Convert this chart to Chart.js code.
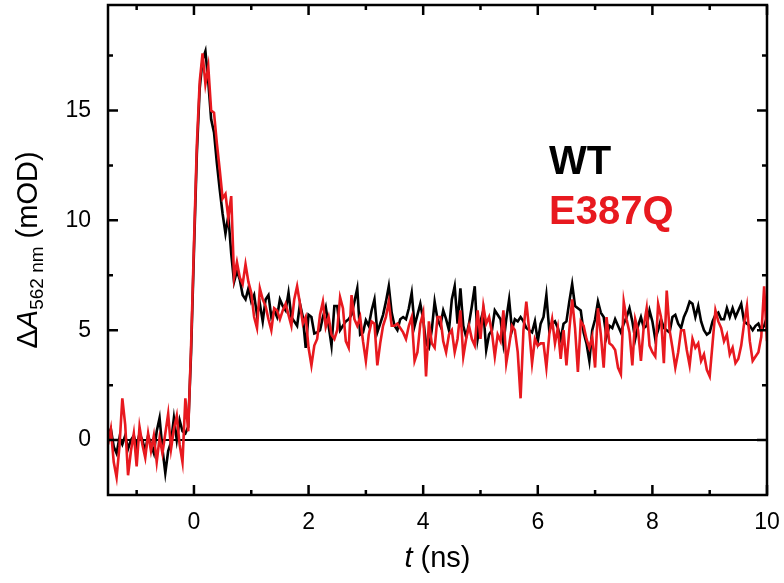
<!DOCTYPE html>
<html>
<head>
<meta charset="utf-8">
<script src="https://cdn.jsdelivr.net/npm/chart.js@4"></script>
<style>
  html, body { margin: 0; padding: 0; background: #fff; }
  canvas { display: block; }
</style>
</head>
<body>
<canvas id="chart" width="784" height="583"></canvas>
<script>
// transient absorption at 562 nm, WT vs E387Q

const seriesNames = ["WT", "E387Q"];
const seriesColors = ["#000000", "#e8191f"];

// time base (ns), 50 ps sampling from -1.5 to 10
const times = [];
for (let i = 0; i <= 230; i++) times.push(Math.round((-1.5 + i * 0.05) * 100) / 100);

// mOD, one line per 0.5 ns
const wt = [
  0.2, 0.5, -0.3, -0.6, 0.1, -0.2, 0.2, -0.4, 0.0, 0.2,
  -0.3, 0.3, 0.0, -0.5, 0.2, -0.2, -0.6, 0.4, 1.0, -0.4,
  -1.5, -0.5, -0.1, 1.0, 0.0, 0.9, 0.4, 0.3, 0.6, 4.0,
  8.6, 13.0, 16.0, 17.3, 17.7, 16.3, 14.6, 14.0, 12.6, 11.4,
  10.3, 9.4, 10.2, 8.5, 7.2, 7.7, 7.3, 6.6, 6.4, 6.9,
  6.3, 6.6, 5.7, 6.2, 5.4, 6.4, 6.6, 5.6, 5.9, 5.6,
  6.4, 6.1, 5.9, 6.7, 5.6, 5.4, 5.2, 6.2, 5.6, 4.2,
  5.7, 5.6, 4.85, 4.9, 5.0, 5.6, 6.05, 5.2, 4.3, 6.1,
  6.1, 5.0, 5.2, 5.4, 5.5, 5.7, 6.3, 6.9, 4.8, 4.9,
  5.45, 5.2, 5.9, 6.4, 4.9, 5.3, 5.7, 6.3, 7.0, 5.8,
  5.2, 5.0, 5.5, 5.6, 5.5, 6.0, 6.7, 5.2, 5.7, 6.2,
  5.5, 4.4, 4.2, 5.0, 6.3, 5.5, 5.2, 5.9, 5.5, 5.0,
  6.4, 7.0, 5.3, 6.9, 5.2, 4.7, 5.3, 6.1, 7.0, 4.6,
  5.4, 5.9, 4.1, 4.8, 5.0, 5.9, 5.7, 5.5, 4.4, 5.5,
  6.4, 5.0, 5.5, 5.4, 5.6, 5.4, 5.1, 5.0, 4.9, 5.4,
  4.5, 5.3, 5.6, 6.6, 5.0, 5.3, 5.4, 5.1, 4.6, 5.3,
  5.4, 6.3, 7.1, 6.1, 6.0, 5.9, 4.9, 4.4, 3.6, 5.0,
  5.5, 6.3, 5.8, 5.6, 4.7, 5.2, 5.1, 5.5, 5.2, 4.9,
  5.3, 5.6, 6.0, 5.4, 4.6, 5.2, 5.6, 5.1, 5.2, 5.9,
  5.4, 4.6, 5.0, 5.5, 5.1, 5.0, 4.9, 5.6, 5.7, 5.3,
  5.1, 5.6, 5.9, 6.3, 6.2, 5.6, 6.1, 5.4, 5.0, 4.8,
  4.9, 5.4, 5.7, 5.8, 5.5, 5.5, 6.0, 5.6, 6.0, 5.6,
  5.9, 6.2, 5.4, 5.3, 5.2, 5.0, 5.2, 5.3, 5.0, 5.2,
  5.6
];

const e387q = [
  -0.2, 0.5, -1.0, -1.7, -0.3, 1.9, 0.7, -1.6, -0.5, 0.3,
  -1.2, 0.6, -0.2, -0.8, 0.3, -0.5, 0.2, -1.0, 0.1, -0.6,
  0.3, 1.2, -0.4, 0.5, 1.1, -0.2, -1.0, 1.9, 0.4, 4.3,
  8.9, 13.4, 16.3, 17.6, 16.2, 17.0, 15.0, 14.9, 13.5, 12.3,
  11.0, 11.2, 10.1, 11.1, 7.4, 8.1, 7.4, 7.1, 8.0, 7.2,
  6.7, 5.6, 5.1, 6.9, 6.4, 6.1, 5.5, 5.0, 6.0, 5.9,
  5.5, 5.9, 6.2, 5.7, 5.2, 6.4, 7.0, 6.2, 5.3, 5.6,
  4.2, 3.4, 4.3, 4.6, 5.7, 6.3, 5.15, 5.6, 4.8, 4.6,
  5.0, 6.5, 6.0, 4.5, 4.2, 6.6, 5.5, 5.2, 5.6, 4.5,
  3.6, 4.8, 5.4, 5.3, 3.4, 4.4, 5.2, 5.6, 6.3, 5.2,
  5.2, 5.3, 5.1, 4.9, 4.6, 5.2, 5.6, 3.6, 4.0, 5.3,
  5.8, 2.9, 5.4, 4.4, 4.2, 5.6, 5.6, 4.5, 4.0, 4.8,
  5.0, 4.0, 4.6, 5.9, 3.8, 4.6, 5.2, 4.6, 4.3, 5.9,
  4.6, 6.1, 5.3, 5.6, 4.9, 3.8, 4.8, 4.5, 5.9, 3.5,
  4.3, 5.2, 5.0, 4.0, 1.9, 5.0, 6.3, 5.0, 3.5, 4.6,
  4.3, 4.4, 4.4, 3.3, 4.8, 5.5, 4.4, 5.1, 3.7, 5.0,
  3.4, 5.0, 6.4, 5.1, 3.1, 5.4, 5.2, 4.6, 4.2, 4.7,
  3.3, 6.0, 4.8, 3.3, 5.6, 4.4, 4.3, 4.1, 3.3, 3.0,
  6.3, 5.5, 4.9, 3.4, 5.5, 5.0, 3.6, 5.2, 6.0, 4.3,
  4.0, 3.8, 6.2, 5.6, 3.5, 6.8, 5.0, 4.2, 3.3, 4.0,
  5.0, 5.0, 4.1, 3.4, 4.6, 4.2, 4.4, 3.6, 3.9, 3.2,
  2.9, 4.4, 5.9, 5.4, 5.1, 4.5, 4.8, 3.9, 4.2, 3.5,
  3.7, 4.3, 5.3, 6.1, 4.5, 3.6, 3.8, 4.0, 4.7, 7.0,
  4.5
];

const xMajor = [0, 2, 4, 6, 8, 10];
const xMinor = [-1, 1, 3, 5, 7, 9];
const yMajor = [0, 5, 10, 15];
const yMinor = [2.5, 7.5, 12.5, 17.5];

const FONT = "'Liberation Sans', Arial, sans-serif";

function toPoints(vals) {
  return times.map((t, i) => ({ x: t, y: vals[i] }));
}

// frame, inward ticks, zero line, axis titles, text legend
const framePlugin = {
  id: "frame",
  beforeDatasetsDraw(chart) {
    const { ctx, chartArea: a, scales } = chart;
    const y0 = scales.y.getPixelForValue(0);
    ctx.save();
    ctx.strokeStyle = "#000";
    ctx.lineWidth = 2;
    ctx.beginPath();
    ctx.moveTo(a.left, y0);
    ctx.lineTo(a.right, y0);
    ctx.stroke();
    ctx.restore();
  },
  afterDraw(chart) {
    const { ctx, chartArea: a, scales } = chart;
    const xs = scales.x, ys = scales.y;
    ctx.save();
    ctx.strokeStyle = "#000";
    ctx.lineWidth = 2.5;
    ctx.strokeRect(a.left, a.top, a.right - a.left, a.bottom - a.top);

    const tick = (vals, len) => {
      ctx.beginPath();
      vals.forEach(v => {
        const px = xs.getPixelForValue(v);
        ctx.moveTo(px, a.bottom); ctx.lineTo(px, a.bottom - len);
        ctx.moveTo(px, a.top); ctx.lineTo(px, a.top + len);
      });
      ctx.stroke();
    };
    const ytick = (vals, len) => {
      ctx.beginPath();
      vals.forEach(v => {
        const py = ys.getPixelForValue(v);
        ctx.moveTo(a.left, py); ctx.lineTo(a.left + len, py);
        ctx.moveTo(a.right, py); ctx.lineTo(a.right - len, py);
      });
      ctx.stroke();
    };
    tick(xMajor, 10); tick(xMinor, 5);
    ytick(yMajor, 10); ytick(yMinor, 5);

    // x title: t (ns)
    ctx.fillStyle = "#000";
    ctx.textBaseline = "alphabetic";
    const cx = (a.left + a.right) / 2;
    ctx.font = "italic 29px " + FONT;
    const wT = ctx.measureText("t").width;
    ctx.font = "29px " + FONT;
    const wRest = ctx.measureText(" (ns)").width;
    let sx = cx - (wT + wRest) / 2;
    ctx.font = "italic 29px " + FONT;
    ctx.fillText("t", sx, 567);
    ctx.font = "29px " + FONT;
    ctx.fillText(" (ns)", sx + wT, 567);

    // y title: ΔA562 nm (mOD), rotated
    const parts = [
      { s: "\u0394", f: "29px " + FONT, dy: 0 },
      { s: "A", f: "italic 29px " + FONT, dy: 0 },
      { s: "562 nm", f: "19px " + FONT, dy: 6 },
      { s: " (mOD)", f: "29px " + FONT, dy: 0 }
    ];
    let total = 0;
    parts.forEach(p => { ctx.font = p.f; p.w = ctx.measureText(p.s).width; total += p.w; });
    ctx.translate(37, (a.top + a.bottom) / 2);
    ctx.rotate(-Math.PI / 2);
    let ox = -total / 2;
    parts.forEach(p => {
      ctx.font = p.f;
      ctx.fillText(p.s, ox, p.dy);
      ox += p.w;
    });
    ctx.restore();

    // legend text
    ctx.save();
    ctx.font = "bold 40px " + FONT;
    ctx.textBaseline = "alphabetic";
    ctx.fillStyle = seriesColors[0];
    ctx.fillText(seriesNames[0], 549, 174);
    ctx.fillStyle = seriesColors[1];
    ctx.fillText(seriesNames[1], 549, 224);
    ctx.restore();
  }
};

new Chart(document.getElementById("chart"), {
  type: "line",
  data: {
    datasets: [
      {
        label: seriesNames[0],
        data: toPoints(wt),
        borderColor: seriesColors[0],
        borderWidth: 2.6,
        pointRadius: 0,
        tension: 0,
        order: 2
      },
      {
        label: seriesNames[1],
        data: toPoints(e387q),
        borderColor: seriesColors[1],
        borderWidth: 2.6,
        pointRadius: 0,
        tension: 0,
        order: 1
      }
    ]
  },
  options: {
    responsive: false,
    animation: false,
    devicePixelRatio: 1,
    layout: { padding: { left: 0, right: 17, top: 5, bottom: 0 } },
    plugins: { legend: { display: false }, tooltip: { enabled: false } },
    scales: {
      x: {
        type: "linear",
        min: -1.5,
        max: 10,
        grid: { display: false, drawTicks: false },
        border: { display: false },
        afterBuildTicks: s => { s.ticks = xMajor.map(v => ({ value: v })); },
        afterFit: s => { s.height = 88; s.paddingLeft = 0; s.paddingRight = 0; },
        ticks: {
          color: "#000",
          font: { family: FONT, size: 23 },
          padding: 14,
          maxRotation: 0,
          autoSkip: false,
          callback: v => String(v)
        }
      },
      y: {
        type: "linear",
        min: -2.5,
        max: 19.8,
        grid: { display: false, drawTicks: false },
        border: { display: false },
        afterBuildTicks: s => { s.ticks = yMajor.map(v => ({ value: v })); },
        afterFit: s => { s.width = 108; s.paddingTop = 0; s.paddingBottom = 0; },
        ticks: {
          color: "#000",
          font: { family: FONT, size: 23 },
          padding: 17,
          autoSkip: false,
          callback: v => String(v)
        }
      }
    }
  },
  plugins: [framePlugin]
});
</script>
</body>
</html>
